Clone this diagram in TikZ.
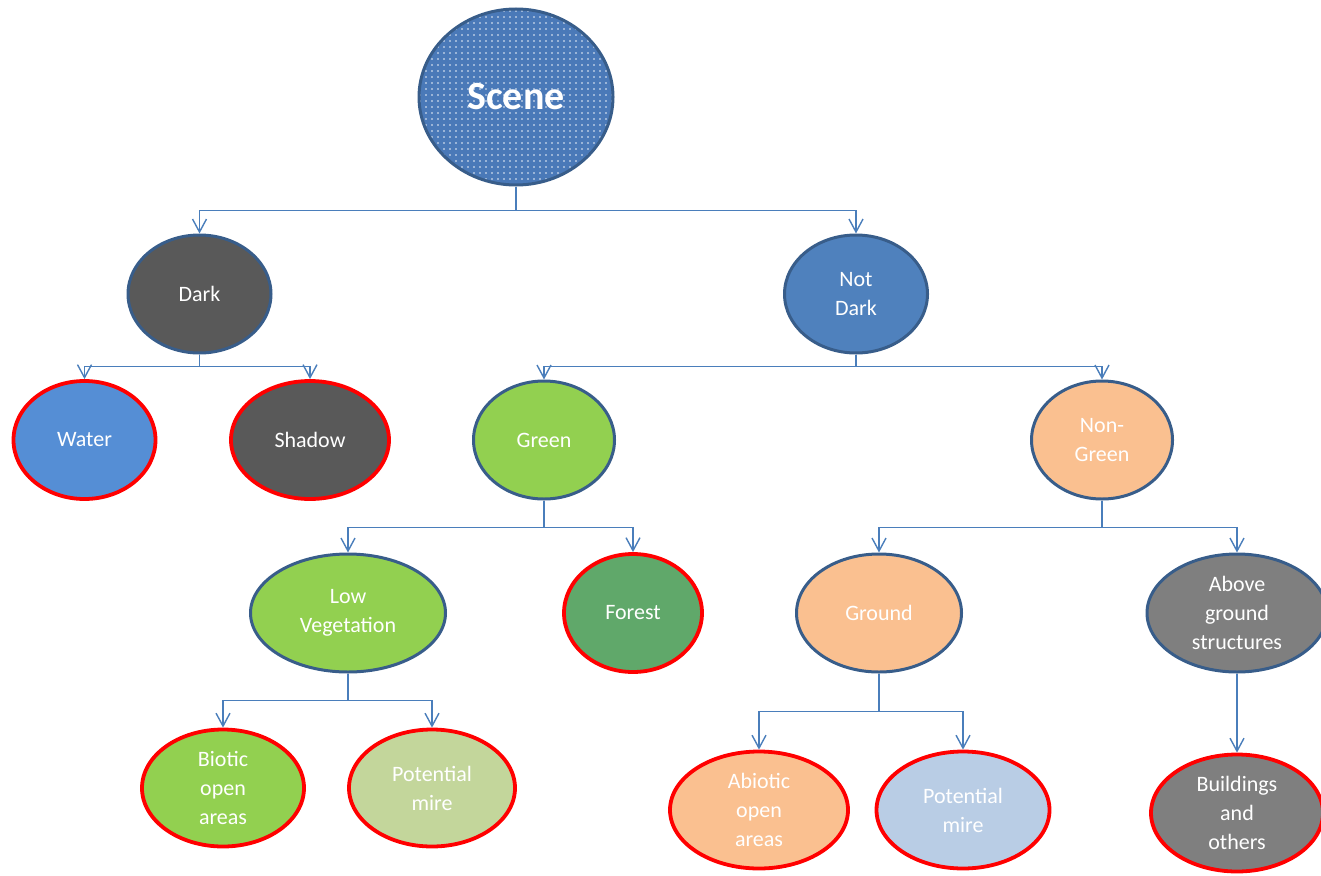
\documentclass[tikz,border=0pt]{standalone}
\usepackage{fontspec}
\setmainfont{Carlito}
\usetikzlibrary{shapes.geometric,arrows.meta,patterns.meta}

\definecolor{outlineblue}{HTML}{385D8A}
\definecolor{connblue}{HTML}{4A7EBB}
\definecolor{scenefill}{HTML}{4A79B8}
\definecolor{darkgray}{HTML}{595959}
\definecolor{midgray}{HTML}{7F7F7F}
\definecolor{notdarkblue}{HTML}{4F81BD}
\definecolor{waterblue}{HTML}{558ED5}
\definecolor{leafgreen}{HTML}{92D050}
\definecolor{forestgreen}{HTML}{60A86A}
\definecolor{peach}{HTML}{FAC090}
\definecolor{olivepale}{HTML}{C3D69B}
\definecolor{skypale}{HTML}{B9CDE5}
\definecolor{leafred}{HTML}{FF0000}

\tikzset{
  blob/.style={ellipse, inner sep=0pt, text=white, align=center,
    font=\fontsize{22}{29}\selectfont},
  inner/.style={blob, draw=outlineblue, line width=3pt},
  leaf/.style={blob, draw=leafred, line width=3.8pt},
  conn/.style={draw=connblue, line width=1.4pt,
    -{Straight Barb[length=13pt,width=14pt,line width=1.4pt]}},
  trunk/.style={draw=connblue, line width=1.4pt},
}

\begin{document}
\begin{tikzpicture}[x=1pt,y=-1pt]
\useasboundingbox (0,0) rectangle (1321,875);

% root
\node[inner, minimum width=194pt, minimum height=176pt,
      preaction={fill=scenefill},
      pattern={Dots[distance=6pt,radius=0.8pt]}, pattern color=white!90!scenefill,
      font=\bfseries\fontsize{40}{48}\selectfont] (scene) at (516,97) {Scene};

% level 1
\node[inner, fill=darkgray, minimum width=143pt, minimum height=118pt] (dark) at (199.5,294) {Dark};
\node[inner, fill=notdarkblue, minimum width=143pt, minimum height=118pt] (notdark) at (856,294) {Not\\Dark};

% level 2
\node[leaf, fill=waterblue, minimum width=142pt, minimum height=118pt] (water) at (84.5,440) {Water};
\node[leaf, fill=darkgray, minimum width=158pt, minimum height=118pt] (shadow) at (310,440) {Shadow};
\node[inner, fill=leafgreen, minimum width=141pt, minimum height=118pt] (green) at (544,440) {Green};
\node[inner, fill=peach, minimum width=141pt, minimum height=118pt] (nongreen) at (1102,440) {Non-\\Green};

% level 3
\node[inner, fill=leafgreen, minimum width=195pt, minimum height=118pt] (lowveg) at (348,613) {Low\\Vegetation};
\node[leaf, fill=forestgreen, minimum width=138pt, minimum height=118pt] (forest) at (633,613) {Forest};
\node[inner, fill=peach, minimum width=165pt, minimum height=118pt] (ground) at (879,613) {Ground};
\node[inner, fill=midgray, minimum width=180pt, minimum height=118pt] (above) at (1237,613) {Above\\ground\\structures};

% level 4
\node[leaf, fill=leafgreen, minimum width=162pt, minimum height=117pt] (biotic) at (223,788) {Biotic\\open\\areas};
\node[leaf, fill=olivepale, minimum width=166pt, minimum height=117pt] (miregreen) at (432,788) {Potential\\mire};
\node[leaf, fill=peach, minimum width=178pt, minimum height=117pt] (abiotic) at (759,810) {Abiotic\\open\\areas};
\node[leaf, fill=skypale, minimum width=173pt, minimum height=117pt] (mireblue) at (963,810) {Potential\\mire};
\node[leaf, fill=midgray, minimum width=172pt, minimum height=117pt] (buildings) at (1237,813) {Buildings\\and\\others};

% elbow connectors
\draw[trunk] (scene.south) -- ++(0,24) coordinate (b0);
\draw[conn] (b0) -| (dark.north);
\draw[conn] (b0) -| (notdark.north);

\draw[trunk] (dark.south) -- ++(0,12) coordinate (b1);
\draw[conn] (b1) -| (water.north);
\draw[conn] (b1) -| (shadow.north);

\draw[trunk] (notdark.south) -- ++(0,12) coordinate (b2);
\draw[conn] (b2) -| (green.north);
\draw[conn] (b2) -| (nongreen.north);

\draw[trunk] (green.south) -- ++(0,27) coordinate (b3);
\draw[conn] (b3) -| (lowveg.north);
\draw[conn] (b3) -| (forest.north);

\draw[trunk] (nongreen.south) -- ++(0,27) coordinate (b4);
\draw[conn] (b4) -| (ground.north);
\draw[conn] (b4) -| (above.north);

\draw[trunk] (lowveg.south) -- ++(0,27) coordinate (b5);
\draw[conn] (b5) -| (biotic.north);
\draw[conn] (b5) -| (miregreen.north);

\draw[trunk] (ground.south) -- ++(0,38) coordinate (b6);
\draw[conn] (b6) -| (abiotic.north);
\draw[conn] (b6) -| (mireblue.north);

\draw[conn] (above.south) -- (buildings.north);
\end{tikzpicture}
\end{document}
